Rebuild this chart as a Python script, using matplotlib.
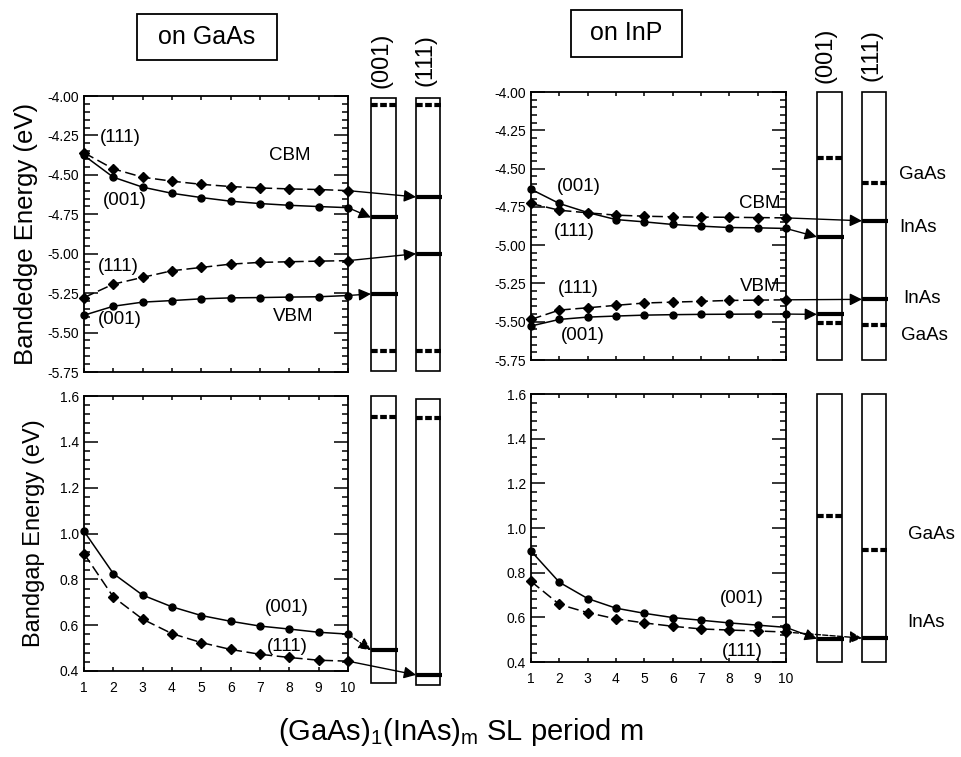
import numpy as np
import matplotlib.pyplot as plt
from matplotlib.patches import Rectangle
from matplotlib.ticker import MultipleLocator, FormatStrFormatter

plt.rcParams['font.family'] = ['Liberation Sans', 'DejaVu Sans']
plt.rcParams['axes.unicode_minus'] = False

# superlattice period
m = [1, 2, 3, 4, 5, 6, 7, 8, 9, 10]

# band edges on GaAs (eV)
cbm001_gaas = [-4.377, -4.515, -4.578, -4.617, -4.644, -4.667, -4.682, -4.693, -4.701, -4.708]
cbm111_gaas = [-4.36, -4.462, -4.515, -4.54, -4.56, -4.574, -4.583, -4.589, -4.593, -4.60]
vbm001_gaas = [-5.39, -5.333, -5.307, -5.297, -5.286, -5.28, -5.278, -5.275, -5.273, -5.265]
vbm111_gaas = [-5.278, -5.193, -5.15, -5.108, -5.087, -5.066, -5.055, -5.051, -5.047, -5.044]

# band edges on InP (eV)
cbm001_inp = [-4.635, -4.728, -4.787, -4.833, -4.848, -4.865, -4.876, -4.885, -4.887, -4.891]
cbm111_inp = [-4.728, -4.772, -4.789, -4.804, -4.811, -4.815, -4.817, -4.818, -4.82, -4.822]
vbm001_inp = [-5.528, -5.485, -5.47, -5.463, -5.457, -5.454, -5.452, -5.451, -5.45, -5.45]
vbm111_inp = [-5.485, -5.424, -5.409, -5.393, -5.378, -5.372, -5.367, -5.361, -5.359, -5.357]

# band gaps (eV)
gap001_gaas = [1.010, 0.825, 0.731, 0.680, 0.642, 0.617, 0.596, 0.583, 0.569, 0.561]
gap111_gaas = [0.912, 0.723, 0.626, 0.563, 0.524, 0.494, 0.473, 0.459, 0.447, 0.443]
gap001_inp = [0.897, 0.757, 0.684, 0.641, 0.618, 0.599, 0.587, 0.575, 0.565, 0.555]
gap111_inp = [0.761, 0.658, 0.621, 0.593, 0.575, 0.560, 0.548, 0.543, 0.539, 0.534]

# strained bulk levels shown in the side columns: (value, is_dashed)
lev001_gaas = [(-4.06, True), (-4.77, False), (-5.255, False), (-5.62, True)]
lev111_gaas = [(-4.06, True), (-4.64, False), (-5.00, False), (-5.617, True)]
lev001_inp = [(-4.428, True), (-4.946, False), (-5.452, False), (-5.511, True)]
lev111_inp = [(-4.593, True), (-4.841, False), (-5.354, False), (-5.522, True)]
gaplev001_gaas = [(1.508, True), (0.491, False)]
gaplev111_gaas = [(1.504, True), (0.383, False)]
gaplev001_inp = [(1.054, True), (0.504, False)]
gaplev111_inp = [(0.90, True), (0.507, False)]

W, H = 961, 757
fig = plt.figure(figsize=(W / 100, H / 100), dpi=100)


def box(l, t, r, b):
    return [l / W, 1 - b / H, (r - l) / W, (b - t) / H]


DASH = (0, (7, 3))


def setup(ax, ylim, major, minor, fmt, xlabels):
    ax.set_xlim(1, 10)
    ax.set_ylim(*ylim)
    ax.xaxis.set_major_locator(MultipleLocator(1))
    ax.yaxis.set_major_locator(MultipleLocator(major))
    ax.yaxis.set_minor_locator(MultipleLocator(minor))
    ax.yaxis.set_major_formatter(FormatStrFormatter(fmt))
    ax.tick_params(which='both', direction='in', top=True, right=True,
                   labelsize=10, width=1.1)
    ax.tick_params(axis='y', which='major', length=10)
    ax.tick_params(axis='y', which='minor', length=4)
    ax.tick_params(axis='x', which='major', length=3, pad=7)
    if not xlabels:
        ax.tick_params(axis='x', labelbottom=False)
    for s in ax.spines.values():
        s.set_linewidth(1.3)


def curve(ax, y, marker, dashed, ms):
    ax.plot(m, y, color='k', lw=1.1, marker=marker, ms=ms,
            ls=DASH if dashed else '-', clip_on=False, zorder=3)


def column(ax, x0, x1, y0, y1, levels):
    ax.add_patch(Rectangle((x0, y0), x1 - x0, y1 - y0, fill=False, lw=1.2,
                           ec='k', clip_on=False))
    ext = x1 + 0.08 * (x1 - x0)
    for v, dashed in levels:
        ax.plot([x0, ext], [v, v], color='k', lw=3,
                ls=(0, (1.6, 0.6)) if dashed else '-', clip_on=False,
                solid_capstyle='butt')


def arrow(ax, y_start, x_end, y_end, dashed=False):
    ax.annotate('', xy=(x_end, y_end), xytext=(10, y_start),
                annotation_clip=False,
                arrowprops=dict(arrowstyle='-|>', color='k', lw=1.0,
                                mutation_scale=18, shrinkA=0, shrinkB=0,
                                ls='--' if dashed else '-'))


ax_tl = fig.add_axes(box(84, 96, 348, 372))
ax_tr = fig.add_axes(box(531, 92, 786, 360))
ax_bl = fig.add_axes(box(84, 396, 348, 671))
ax_br = fig.add_axes(box(531, 394, 786, 662))

setup(ax_tl, (-5.75, -4.0), 0.25, 0.05, '%.2f', False)
setup(ax_tr, (-5.75, -4.0), 0.25, 0.05, '%.2f', False)
setup(ax_bl, (0.4, 1.6), 0.2, 0.04, '%.1f', True)
setup(ax_br, (0.4, 1.6), 0.2, 0.04, '%.1f', True)

colL = [(10.78, 11.64), (12.32, 13.14)]
colR = [(11.09, 11.98), (12.68, 13.53)]

# ---- top left: on GaAs
ax = ax_tl
curve(ax, cbm111_gaas, 'D', True, 5)
curve(ax, cbm001_gaas, 'o', False, 5)
curve(ax, vbm111_gaas, 'D', True, 5)
curve(ax, vbm001_gaas, 'o', False, 5)
column(ax, *colL[0], -5.745, -4.01, lev001_gaas)
column(ax, *colL[1], -5.745, -4.01, lev111_gaas)
arrow(ax, cbm111_gaas[-1], colL[1][0], lev111_gaas[1][0])
arrow(ax, cbm001_gaas[-1], colL[0][0], lev001_gaas[1][0])
arrow(ax, vbm111_gaas[-1], colL[1][0], lev111_gaas[2][0])
arrow(ax, vbm001_gaas[-1], colL[0][0], lev001_gaas[2][0])
fs = 13.5
ax.text(1.55, -4.266, '(111)', fontsize=fs, va='center')
ax.text(8.02, -4.38, 'CBM', fontsize=fs, va='center', ha='center')
ax.text(1.65, -4.66, '(001)', fontsize=fs, va='center')
ax.text(1.48, -5.084, '(111)', fontsize=fs, va='center')
ax.text(1.48, -5.42, '(001)', fontsize=fs, va='center')
ax.text(8.13, -5.40, 'VBM', fontsize=fs, va='center', ha='center')
ax.set_ylabel('Bandedge Energy (eV)', fontsize=18.5, labelpad=7)

# ---- top right: on InP
ax = ax_tr
curve(ax, cbm111_inp, 'D', True, 5)
curve(ax, cbm001_inp, 'o', False, 5)
curve(ax, vbm111_inp, 'D', True, 5)
curve(ax, vbm001_inp, 'o', False, 5)
column(ax, *colR[0], -5.75, -4.0, lev001_inp)
column(ax, *colR[1], -5.75, -4.0, lev111_inp)
arrow(ax, cbm111_inp[-1], colR[1][0], lev111_inp[1][0])
arrow(ax, cbm001_inp[-1], colR[0][0], lev001_inp[1][0])
arrow(ax, vbm111_inp[-1], colR[1][0], lev111_inp[2][0])
arrow(ax, vbm001_inp[-1], colR[0][0], lev001_inp[2][0])
ax.text(1.92, -4.614, '(001)', fontsize=fs, va='center')
ax.text(1.81, -4.914, '(111)', fontsize=fs, va='center')
ax.text(9.79, -4.725, 'CBM', fontsize=fs, va='center', ha='right')
ax.text(1.95, -5.28, '(111)', fontsize=fs, va='center')
ax.text(9.79, -5.267, 'VBM', fontsize=fs, va='center', ha='right')
ax.text(2.06, -5.587, '(001)', fontsize=fs, va='center')
for x, y, s in [(13.99, -4.536, 'GaAs'), (13.99, -4.888, 'InAs'),
                (14.13, -5.346, 'InAs'), (14.06, -5.587, 'GaAs')]:
    ax.text(x, y, s, fontsize=fs, va='center')

# ---- bottom left: gaps on GaAs
ax = ax_bl
curve(ax, gap001_gaas, 'o', False, 5)
curve(ax, gap111_gaas, 'D', True, 5)
column(ax, *colL[0], 0.346, 1.6, gaplev001_gaas)
column(ax, *colL[1], 0.341, 1.585, gaplev111_gaas)
arrow(ax, gap001_gaas[-1], colL[0][0], gaplev001_gaas[1][0], dashed=True)
arrow(ax, gap111_gaas[-1], colL[1][0], gaplev111_gaas[1][0])
ax.text(7.17, 0.679, '(001)', fontsize=fs, va='center')
ax.text(7.24, 0.505, '(111)', fontsize=fs, va='center')
ax.set_ylabel('Bandgap Energy (eV)', fontsize=17, labelpad=11)

# ---- bottom right: gaps on InP
ax = ax_br
curve(ax, gap001_inp, 'o', False, 5)
curve(ax, gap111_inp, 'D', True, 5)
column(ax, *colR[0], 0.4, 1.6, gaplev001_inp)
column(ax, *colR[1], 0.4, 1.6, gaplev111_inp)
arrow(ax, gap001_inp[-1], colR[0][0], gaplev001_inp[1][0])
arrow(ax, gap111_inp[-1], colR[1][0], gaplev111_inp[1][0], dashed=True)
ax.text(7.67, 0.686, '(001)', fontsize=fs, va='center')
ax.text(7.74, 0.445, '(111)', fontsize=fs, va='center')
ax.text(14.3, 0.973, 'GaAs', fontsize=fs, va='center')
ax.text(14.27, 0.575, 'InAs', fontsize=fs, va='center')

# ---- figure texts
for (l, t, r, b), s in [((137, 14, 277, 60), 'on GaAs'), ((571, 10, 682, 57), 'on InP')]:
    fig.patches.append(Rectangle((l / W, 1 - b / H), (r - l) / W, (b - t) / H,
                                 fill=False, ec='k', lw=1.3, transform=fig.transFigure))
    fig.text((l + r) / 2 / W, 1 - (t + b) / 2 / H, s, fontsize=18,
             ha='center', va='center')
for x, s in [(382, '(001)'), (426, '(111)')]:
    fig.text(x / W, 1 - 60 / H, s, fontsize=17, rotation=90, ha='center', va='center')
for x, s in [(825, '(001)'), (871, '(111)')]:
    fig.text(x / W, 1 - 55 / H, s, fontsize=17, rotation=90, ha='center', va='center')
fig.text(461 / W, 1 - 732 / H, r'(GaAs)$_\mathregular{1}$(InAs)$_\mathregular{m}$ SL period m',
         fontsize=21, ha='center', va='center')

fig.savefig('out.png', dpi=100)
